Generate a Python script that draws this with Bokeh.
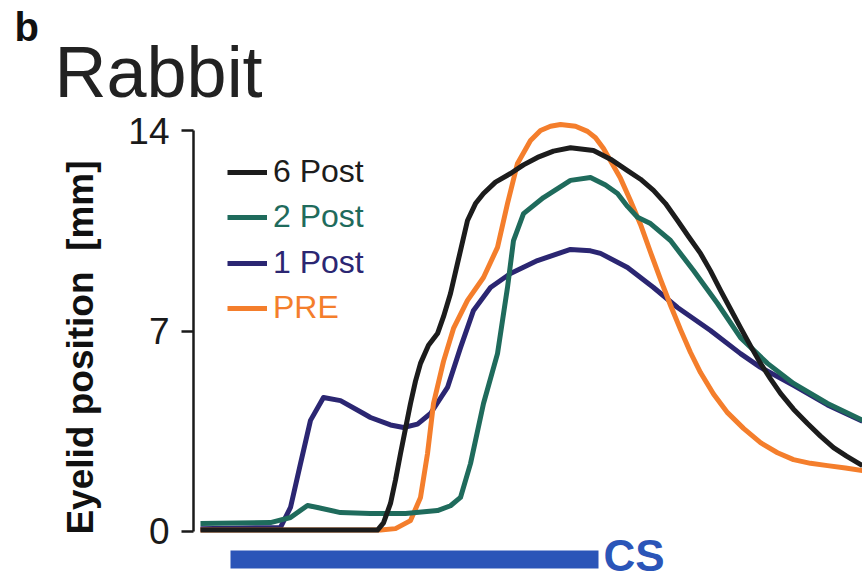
import math
from bokeh.plotting import figure
from bokeh.models import Range1d, Label, Legend, LegendItem, FixedTicker
from bokeh.embed import file_html
from bokeh.resources import INLINE

# ---- data (time in ms relative to CS onset, eyelid position in mm) ----
t_6post = [-30, 100, 147, 153, 160, 165, 170, 175, 180, 185, 190, 198, 207, 213, 220, 227, 237, 245, 253,
           265, 280, 293, 307, 323, 340, 363, 380, 397, 410, 423, 435, 447, 458, 470, 480, 490, 500, 510,
           520, 530, 540, 550, 563, 577, 590, 603, 616, 632]
y_6post = [0.05, 0.05, 0.05, 0.3, 0.98, 1.8, 2.72, 3.6, 4.47, 5.25, 5.87, 6.5, 6.91, 7.5, 8.31, 9.36, 10.86, 11.45, 11.8,
           12.2, 12.5, 12.8, 13.06, 13.28, 13.4, 13.3, 13.0, 12.6, 12.3, 11.91, 11.45, 10.86, 10.3, 9.71, 9.1, 8.42, 7.77, 7.12,
           6.48, 5.87, 5.33, 4.82, 4.27, 3.77, 3.33, 2.93, 2.63, 2.3]

t_2post = [-30, 40, 60, 77, 87, 110, 140, 175, 207, 220, 230, 240, 253, 267, 277, 283, 293, 313, 340, 360,
           375, 387, 397, 407, 420, 440, 463, 487, 510, 537, 563, 597, 632]
y_2post = [0.28, 0.31, 0.49, 0.91, 0.84, 0.66, 0.63, 0.63, 0.73, 0.9, 1.19, 2.37, 4.47, 6.21, 8.52, 10.16, 11.1, 11.66, 12.26, 12.36,
           12.1, 11.8, 11.35, 10.97, 10.75, 10.16, 9.11, 7.96, 6.77, 5.87, 5.17, 4.47, 3.88]

t_1post = [-30, 50, 60, 70, 80, 93, 110, 133, 140, 160, 173, 187, 200, 217, 230, 243, 260, 280, 307, 340,
           360, 370, 397, 423, 447, 480, 510, 530, 563, 597, 632]
y_1post = [0.1, 0.14, 0.84, 2.37, 3.88, 4.68, 4.57, 4.12, 3.98, 3.72, 3.63, 3.75, 4.12, 5.03, 6.42, 7.72, 8.52, 9.01, 9.46, 9.85,
           9.8, 9.71, 9.22, 8.52, 7.82, 7.02, 6.21, 5.73, 5.1, 4.42, 3.85]

t_pre = [-30, 150, 165, 180, 190, 197, 203, 213, 223, 237, 253, 267, 277, 287, 300, 310, 320, 330, 345, 357,
         365, 373, 390, 400, 410, 420, 430, 440, 450, 460, 470, 483, 497, 513, 530, 547, 563, 580, 597, 615, 632]
y_pre = [0.05, 0.05, 0.1, 0.38, 1.19, 2.72, 4.47, 5.94, 7.09, 8.07, 8.87, 9.92, 11.45, 12.85, 13.65, 14.0, 14.15, 14.21, 14.15, 13.97,
         13.75, 13.37, 12.33, 11.55, 10.72, 9.75, 8.8, 7.9, 7.05, 6.25, 5.55, 4.8, 4.15, 3.6, 3.1, 2.75, 2.51, 2.38, 2.3, 2.22, 2.13]

cs_on = [0]
cs_off = [368]

y_ticks = [0, 7, 14]

# ---- styles ----
C_6 = "#1c1c1c"
C_2 = "#1f6b5c"
C_1 = "#2b2672"
C_PRE = "#f47e2c"
C_CS = "#2b55b8"
FONT = "Liberation Sans"
H = 579

p = figure(width=862, height=H, output_backend="svg", toolbar_location=None,
           x_range=Range1d(-230, 632), y_range=Range1d(-1.676, 18.54),
           x_axis_location=None, y_axis_location="left", min_border=0)
p.grid.visible = False
p.outline_line_color = None
p.background_fill_color = "white"
p.border_fill_color = "white"

ax = p.yaxis[0]
ax.fixed_location = -37
ax.ticker = FixedTicker(ticks=y_ticks)
ax.bounds = (0, 14)
ax.major_tick_out = 12
ax.major_tick_in = 0
ax.minor_tick_out = 0
ax.minor_tick_in = 0
ax.axis_line_width = 2.5
ax.major_tick_line_width = 2.5
ax.axis_line_color = "#1a1a1a"
ax.major_tick_line_color = "#1a1a1a"
ax.major_label_text_font = FONT
ax.major_label_text_font_size = "37px"
ax.major_label_text_color = "#1a1a1a"
ax.major_label_standoff = 12

r_1 = p.line(t_1post, y_1post, line_color=C_1, line_width=5, line_join="round")
r_pre = p.line(t_pre, y_pre, line_color=C_PRE, line_width=5, line_join="round")
r_2 = p.line(t_2post, y_2post, line_color=C_2, line_width=5, line_join="round")
r_6 = p.line(t_6post, y_6post, line_color=C_6, line_width=5, line_join="round")

# CS bar
p.quad(left=cs_on, right=cs_off, bottom=-1.29, top=-0.66, fill_color=C_CS, line_color=None)
p.add_layout(Label(x=cs_off[0], y=-0.84, x_offset=5, text="CS", text_font=FONT, text_font_style="bold",
                   text_font_size="44px", text_color=C_CS, text_baseline="middle"))

# legends (one per entry so each label has its own colour)
rows = [("6 Post", r_6, C_6, 389), ("2 Post", r_2, C_2, 344), ("1 Post", r_1, C_1, 298), ("PRE", r_pre, C_PRE, 253)]
for lab, rend, col, vy in rows:
    lg = Legend(items=[LegendItem(label=lab, renderers=[rend])], location=(227, vy),
                label_text_font=FONT, label_text_font_size="32px", label_text_color=col,
                glyph_width=40, glyph_height=20, label_standoff=6, padding=0, spacing=0, margin=0,
                border_line_alpha=0, background_fill_alpha=0)
    p.add_layout(lg)

# y-axis title, panel letter and title (screen units from the frame's bottom-left)
p.add_layout(Label(x=80, y=H - 347, x_units="screen", y_units="screen", text="Eyelid position\u00a0 [mm]",
                   angle=math.pi / 2, text_font=FONT, text_font_size="37px", text_font_style="bold",
                   text_color="#111111", text_align="center", text_baseline="middle"))
p.add_layout(Label(x=54, y=H - 71, x_units="screen", y_units="screen", text="Rabbit", text_font=FONT,
                   text_font_size="72px", text_color="#222222", text_baseline="middle"))
p.add_layout(Label(x=14, y=H - 26, x_units="screen", y_units="screen", text="b", text_font=FONT,
                   text_font_size="40px", text_font_style="bold", text_color="#111111", text_baseline="middle"))

open("out.html", "w").write(file_html(p, INLINE))
